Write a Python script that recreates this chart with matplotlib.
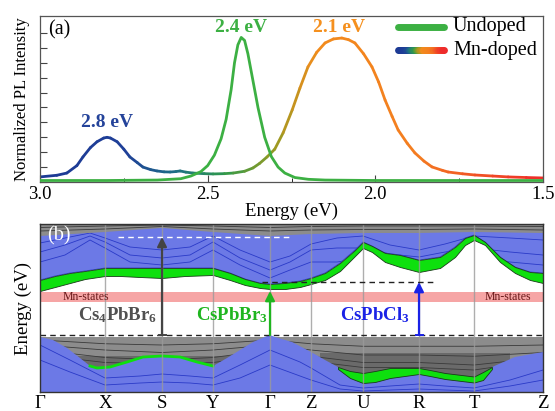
import numpy as np
import matplotlib
matplotlib.use("Agg")
import matplotlib.pyplot as plt
from matplotlib.collections import LineCollection
from matplotlib.colors import LinearSegmentedColormap

plt.rcParams['font.family'] = ['Liberation Serif', 'DejaVu Serif']
plt.rcParams['mathtext.fontset'] = 'custom'
plt.rcParams['mathtext.rm'] = 'Liberation Serif'
plt.rcParams['mathtext.bf'] = 'Liberation Serif:bold'
plt.rcParams['mathtext.default'] = 'regular'

# -------- (a) PL spectra --------
undoped_E = [3.00, 2.80, 2.65, 2.58, 2.55, 2.52, 2.50, 2.48, 2.46, 2.445, 2.43, 2.42, 2.41,
             2.40, 2.39, 2.38, 2.37, 2.35, 2.33, 2.31, 2.29, 2.27, 2.24, 2.20, 2.15, 2.00,
             1.80, 1.50]
undoped_I = [0.010, 0.010, 0.013, 0.022, 0.040, 0.070, 0.11, 0.18, 0.29, 0.42, 0.62, 0.80, 0.92,
             0.97, 0.95, 0.86, 0.74, 0.50, 0.30, 0.17, 0.10, 0.06, 0.030, 0.018, 0.013, 0.010,
             0.010, 0.010]

doped_E = [3.00, 2.95, 2.92, 2.89, 2.872, 2.85, 2.83, 2.81, 2.80, 2.79, 2.77, 2.75, 2.732,
           2.71, 2.693, 2.67, 2.651, 2.63, 2.612, 2.595, 2.582, 2.565, 2.544, 2.51, 2.484,
           2.45, 2.424, 2.39, 2.365, 2.345, 2.323, 2.30, 2.275, 2.248, 2.225, 2.201, 2.175,
           2.15, 2.125, 2.10, 2.08, 2.061, 2.035, 2.01, 1.99, 1.971, 1.95, 1.932, 1.905,
           1.882, 1.855, 1.831, 1.80, 1.783, 1.74, 1.703, 1.65, 1.604, 1.55, 1.50]
doped_I = [0.034, 0.045, 0.06, 0.11, 0.168, 0.23, 0.27, 0.295, 0.30, 0.295, 0.27, 0.22, 0.168,
           0.13, 0.10, 0.083, 0.074, 0.068, 0.067, 0.07, 0.074, 0.066, 0.06, 0.056, 0.054,
           0.056, 0.06, 0.072, 0.094, 0.125, 0.168, 0.22, 0.33, 0.483, 0.63, 0.772, 0.87,
           0.933, 0.96, 0.966, 0.955, 0.933, 0.86, 0.772, 0.67, 0.55, 0.44, 0.349, 0.26,
           0.195, 0.14, 0.101, 0.078, 0.067, 0.055, 0.047, 0.040, 0.034, 0.030, 0.027]

peak_labels = ['2.8 eV', '2.4 eV', '2.1 eV']
peak_pos = [(2.80, 0.40), (2.40, 1.037), (2.108, 1.037)]
peak_colors = ['#24439a', '#3cb043', '#f5901e']

# -------- (b) band structure --------
kpt_labels = ['Γ', 'X', 'S', 'Y', 'Γ', 'Z', 'U', 'R', 'T', 'Z']
kpt_pos = [0, 65, 122, 173, 230, 271, 323, 379, 434, 503]

# CsPbBr3 conduction band (green)
cb_k = [0, 15, 30, 45, 65, 80, 100, 122, 145, 173, 190, 205, 220, 230, 245, 260, 271,
        285, 300, 315, 323, 332, 345, 360, 379, 400, 415, 425, 434, 445, 460, 475, 490, 503]
cb_green_top = [2.20, 2.36, 2.48, 2.56, 2.68, 2.68, 2.68, 2.68, 2.68, 2.68, 2.48, 2.24, 2.08,
                2.04, 2.08, 2.16, 2.28, 2.48, 2.88, 3.40, 3.72, 3.56, 3.28, 3.20, 3.00, 3.12,
                3.52, 3.88, 4.00, 3.72, 3.12, 2.72, 2.52, 2.48]
cb_green_bot = [1.76, 1.92, 2.08, 2.24, 2.36, 2.36, 2.32, 2.28, 2.36, 2.40, 2.20, 2.00, 1.88,
                1.84, 1.84, 1.92, 2.04, 2.20, 2.56, 3.16, 3.48, 3.32, 2.92, 2.72, 2.52, 2.68,
                3.12, 3.60, 3.80, 3.60, 2.92, 2.48, 2.20, 2.08]
# top of CsPbCl3 (blue) region in the conduction band
cb_blue_top = [3.96, 4.12, 4.28, 4.12, 3.96, 4.04, 4.08, 4.08, 4.12, 4.08]

# valence band top of the blue region (left part, incl. thin green line)
vb_k = [0, 13, 27, 40, 50, 57, 70, 87, 103, 122, 140, 157, 173, 187, 200, 213, 227, 230,
        235, 252, 271, 285, 298]
vb_blue_top = [-0.08, -0.20, -0.52, -0.92, -1.24, -1.32, -1.28, -1.08, -0.88, -0.84, -0.88,
               -1.08, -1.24, -0.92, -0.60, -0.28, -0.04, 0.0, -0.08, -0.28, -0.68, -1.00, -1.28]
# CsPbBr3 valence band (green, right part)
vbg_k = [298, 310, 323, 335, 350, 379, 390, 405, 434, 443, 452]
vbg_top = [-1.28, -1.44, -1.52, -1.44, -1.32, -1.32, -1.40, -1.52, -1.66, -1.48, -1.28]
vbg_bot = [-1.36, -1.72, -1.92, -1.88, -1.72, -1.56, -1.64, -1.76, -1.90, -1.80, -1.36]
vb_k2 = [452, 475, 503]
vb_blue_top2 = [-1.28, -0.88, -0.68]

# thin band lines inside the blue regions
c_k = [0, 25, 50, 65, 90, 122, 150, 173, 200, 230, 250, 271, 297, 323, 350, 379, 405, 434, 470, 503]
c1_E = [3.68, 3.88, 4.08, 3.88, 3.52, 3.40, 3.52, 3.96, 3.40, 2.92, 3.16, 3.64, 3.88, 3.96,
        3.60, 3.40, 3.64, 3.96, 3.88, 3.80]
c2_E = [3.32, 3.60, 3.96, 3.72, 3.20, 3.08, 3.20, 3.72, 3.08, 2.60, 2.92, 3.40, 3.48, 3.48,
        3.24, 3.12, 3.32, 3.48, 3.32, 3.20]
c3_E = [2.92, 3.20, 3.80, 3.48, 2.92, 2.80, 2.92, 3.40, 2.80, 2.28, 2.60, 2.92, 2.92, 3.08,
        2.92, 2.76, 2.92, 3.08, 2.92, 2.80]
v_k = [0, 30, 65, 100, 122, 150, 173, 200, 230, 260, 271, 300, 323, 350, 379, 405, 434, 470, 503]
v1_E = [-0.40, -1.00, -1.72, -1.64, -1.56, -1.64, -1.72, -1.20, -0.60, -1.08, -1.32, -2.00,
        -2.12, -2.04, -1.96, -2.04, -2.12, -1.80, -1.40]
v2_E = [-1.00, -1.48, -2.00, -1.92, -1.88, -1.92, -2.00, -1.72, -1.20, -1.64, -1.80, -2.16,
        -2.24, -2.20, -2.16, -2.20, -2.24, -2.04, -1.80]

# dark Cs4PbBr6 bands in the gray regions
g1_E = [4.30, 4.36, 4.40, 4.36, 4.30, 4.34, 4.36, 4.36, 4.36, 4.34]
g2_E = [4.16, 4.24, 4.34, 4.24, 4.16, 4.20, 4.22, 4.22, 4.24, 4.20]
d1_E = [-0.20, -0.35, -0.40, -0.35, -0.20, -0.35, -0.45, -0.45, -0.45, -0.40]
d2_E = [-0.40, -0.60, -0.70, -0.60, -0.40, -0.60, -0.80, -0.80, -0.85, -0.70]
d3_E = [-0.60, -0.90, -1.00, -0.90, -0.60, -0.85, -1.10, -1.10, -1.20, -0.90]
d4_E = [-0.80, -1.10, -1.15, -1.10, -0.80, -1.05, -1.30, -1.30, -1.40, -1.00]

mn_band = (1.32, 1.72)
gap_cs4 = 3.92
gap_cl3 = 2.12
gap_br3 = 1.76

BLUE_FILL = '#6c79e6'
BLUE_LINE = '#2a3ac8'
GRAY_FILL = '#8c8c8c'
GREEN_FILL = '#0ee00e'

fig = plt.figure(figsize=(5.55, 4.11), dpi=100)
ax1 = fig.add_axes([0.0721, 0.5572, 0.9063, 0.4039])
ax2 = fig.add_axes([0.0721, 0.0462, 0.9063, 0.4088])

# ======== panel (a) ========
cmap = LinearSegmentedColormap.from_list('mn', [
    (0.00, '#ee2b2b'), (0.10, '#f04a26'), (0.25, '#f47d20'), (0.45, '#f28c1c'),
    (0.53, '#9a9a22'), (0.63, '#2f9a4a'), (0.73, '#1d6f86'), (0.83, '#1f3f98'),
    (1.00, '#1c3a94')])
norm = plt.Normalize(1.5, 3.0)
pts = np.column_stack([doped_E, doped_I])
segs = np.stack([pts[:-1], pts[1:]], axis=1)
lc = LineCollection(segs, cmap=cmap, norm=norm, linewidth=2.0, capstyle='round', joinstyle='round')
lc.set_array(0.5 * (np.array(doped_E[:-1]) + np.array(doped_E[1:])))
ax1.add_collection(lc)
ax1.plot(undoped_E, undoped_I, color='#3cb043', lw=2.0, zorder=3)

for lab, (x, y), c in zip(peak_labels, peak_pos, peak_colors):
    ax1.text(x, y, lab, color=c, fontsize=14, fontweight='bold', ha='center', va='center')
ax1.text(2.976, 1.02, '(a)', fontsize=14.5, ha='left', va='center')

# legend drawn by hand (gradient handle)
ax1.plot([0.712, 0.803], [0.934, 0.934], color='#3cb043', lw=5, solid_capstyle='round',
         transform=ax1.transAxes)
lx = np.linspace(0.712, 0.803, 40)
lsegs = np.stack([np.column_stack([lx[:-1], np.full(39, 0.795)]),
                  np.column_stack([lx[1:], np.full(39, 0.795)])], axis=1)
lc2 = LineCollection(lsegs, cmap=cmap, norm=plt.Normalize(0, 1), linewidth=5,
                     capstyle='round', transform=ax1.transAxes)
lc2.set_array(np.linspace(1, 0, 39))
ax1.add_collection(lc2)
ax1.text(0.821, 0.934, 'Undoped', fontsize=14.5, ha='left', va='center', transform=ax1.transAxes)
ax1.text(0.821, 0.795, 'Mn-doped', fontsize=14.5, ha='left', va='center', transform=ax1.transAxes)

ax1.set_xlim(3.0, 1.5)
ax1.set_ylim(0, 1.114)
ax1.set_xticks([3.0, 2.5, 2.0, 1.5])
ax1.set_xticks([2.75, 2.25, 1.75], minor=True)
ax1.set_yticks(np.arange(0, 1.01, 0.1))
ax1.set_yticklabels([])
ax1.tick_params(axis='both', direction='in', labelsize=13.5, length=5, width=0.8,
                color='#444444', pad=3)
ax1.tick_params(axis='x', which='minor', direction='in', length=3)
ax1.set_xlabel('Energy (eV)', fontsize=13.5, labelpad=0)
ax1.set_ylabel('Normalized PL Intensity', fontsize=12, labelpad=4)
for s in ax1.spines.values():
    s.set_color('#555555')
    s.set_linewidth(0.9)

# ======== panel (b) ========
ytop, ybot = 4.44, -2.28
# gray Cs4PbBr6 regions
ax2.fill_between([0, 503], 3.8, 5.0, color=GRAY_FILL, lw=0, zorder=1)
ax2.fill_between([0, 503], -0.08, -3.0, color=GRAY_FILL, lw=0, zorder=1)
ax2.fill_between([20, 200], -0.85, -1.35, color='#6a6a6a', lw=0, zorder=1.1)
ax2.fill_between([280, 470], -0.72, -1.75, color='#6a6a6a', lw=0, zorder=1.1)
for e in [g1_E, g2_E, d1_E, d2_E, d3_E, d4_E]:
    ax2.plot(kpt_pos, e, color='#3a3a3a', lw=0.6, zorder=1.2)

# blue CsPbCl3 regions
cb_poly_x = list(cb_k) + list(kpt_pos[::-1])
cb_poly_y = list(cb_green_top) + list(cb_blue_top[::-1])
blue_cb = ax2.fill(cb_poly_x, cb_poly_y, color=BLUE_FILL, lw=0, zorder=2)[0]
vb_x = list(vb_k) + list(vbg_k) + list(vb_k2) + [503, 0]
vb_y = list(vb_blue_top) + list(vbg_bot) + list(vb_blue_top2) + [-3.0, -3.0]
blue_vb = ax2.fill(vb_x, vb_y, color=BLUE_FILL, lw=0, zorder=2)[0]
for e in [c1_E, c2_E, c3_E]:
    ln, = ax2.plot(c_k, e, color=BLUE_LINE, lw=0.6, zorder=2.2)
    ln.set_clip_path(blue_cb)
for e in [v1_E, v2_E]:
    ln, = ax2.plot(v_k, e, color=BLUE_LINE, lw=0.6, zorder=2.2)
    ln.set_clip_path(blue_vb)
ax2.plot(cb_k, cb_green_top, color=BLUE_LINE, lw=0.6, zorder=2.3)

# green CsPbBr3 bands
ax2.fill_between(cb_k, cb_green_bot, cb_green_top, color=GREEN_FILL, edgecolor='#1a3a1a',
                 lw=0.6, zorder=3)
ax2.fill_between(vbg_k, vbg_bot, vbg_top, color=GREEN_FILL, edgecolor='#1a3a1a',
                 lw=0.6, zorder=3)
ax2.plot(vb_k[4:13], vb_blue_top[4:13], color=GREEN_FILL, lw=2.0, zorder=3)

# Mn states
ax2.axhspan(mn_band[0], mn_band[1], color='#f06a6a', alpha=0.6, lw=0, zorder=3.5)
ax2.text(46, 1.52, 'Mn-states', fontsize=8.5, color='#6a1a1a', ha='center', va='center', zorder=6)
ax2.text(468, 1.52, 'Mn-states', fontsize=8.5, color='#6a1a1a', ha='center', va='center', zorder=6)

# high-symmetry lines
for k in kpt_pos[1:-1]:
    ax2.axvline(k, color='#9a9a9a', lw=1.0, alpha=0.8, zorder=4)

# dashed reference lines
ax2.axhline(0, color='#222222', lw=1.0, ls=(0, (4, 3)), zorder=5)
ax2.plot([222, 395], [gap_cl3, gap_cl3], color='#222222', lw=1.0, ls=(0, (4, 3)), zorder=5)
ax2.plot([78, 250], [gap_cs4, gap_cs4], color='white', lw=1.0, ls=(0, (4, 3)), zorder=5)

# arrows
arrows = [(122, gap_cs4, '#444444', True), (230, gap_br3, '#1fb51f', False),
          (379, gap_cl3, '#1a22e6', True)]
for k, top, c, tee in arrows:
    ax2.annotate('', xy=(k, top), xytext=(k, 0),
                 arrowprops=dict(arrowstyle='-|>', color=c, lw=1.6, mutation_scale=14,
                                 shrinkA=0, shrinkB=0), zorder=6)
    if tee:
        ax2.plot([k - 3.5, k + 3.5], [0, 0], color=c, lw=1.4, zorder=6)

ax2.text(78, 0.8, r'Cs$_\mathbf{4}$PbBr$_\mathbf{6}$', color='#505050', fontsize=13.5,
         fontweight='bold', ha='center', va='center', zorder=6)
ax2.text(192, 0.8, r'CsPbBr$_\mathbf{3}$', color='#1fb51f', fontsize=13.5, fontweight='bold',
         ha='center', va='center', zorder=6)
ax2.text(335, 0.8, r'CsPbCl$_\mathbf{3}$', color='#1a22e6', fontsize=13.5, fontweight='bold',
         ha='center', va='center', zorder=6)
ax2.text(7, 3.96, '(b)', color='white', fontsize=14.5, ha='left', va='center', zorder=6)

ax2.set_xlim(0, 503)
ax2.set_ylim(ybot, ytop)
ax2.set_xticks(kpt_pos)
ax2.set_xticklabels(kpt_labels)
ax2.set_yticks([])
ax2.tick_params(axis='x', length=0, labelsize=13.5, pad=2)
ax2.set_ylabel('Energy (eV)', fontsize=13.5, labelpad=6)
for s in ax2.spines.values():
    s.set_color('#333333')
    s.set_linewidth(1.0)
    s.set_zorder(7)

fig.savefig('out.png', dpi=100)
